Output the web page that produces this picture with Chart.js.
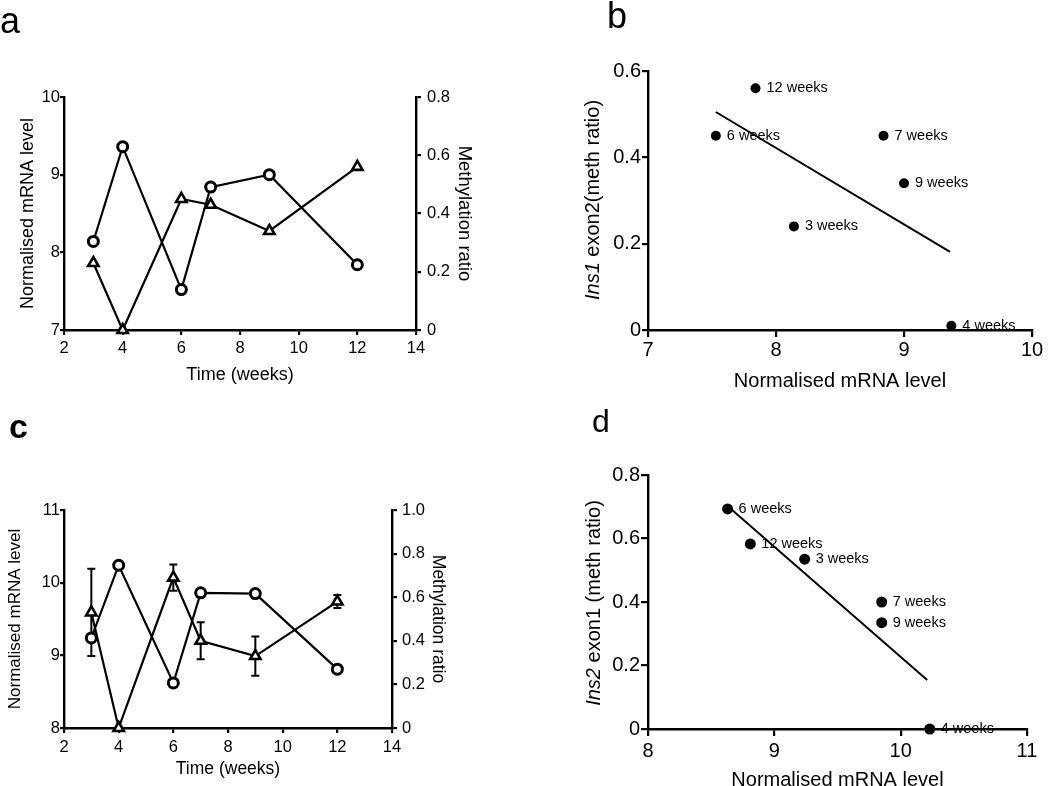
<!DOCTYPE html>
<html><head><meta charset="utf-8">
<script src="https://cdn.jsdelivr.net/npm/chart.js@4.4.1/dist/chart.umd.min.js"></script>
<style>
html,body{margin:0;padding:0;background:#fff;overflow:hidden;width:1050px;height:786px;}
canvas{position:absolute;}
</style></head><body>
<canvas id="ca" width="525" height="393" style="left:0;top:0"></canvas>
<canvas id="cb" width="525" height="393" style="left:525px;top:0"></canvas>
<canvas id="cc" width="525" height="393" style="left:0;top:393px"></canvas>
<canvas id="cd" width="525" height="393" style="left:525px;top:393px"></canvas>
<script>
// ---------- data ----------
const weeks = [3, 4, 6, 7, 9, 12];
const weekLabels = ['3 weeks', '4 weeks', '6 weeks', '7 weeks', '9 weeks', '12 weeks'];

// panel a (Ins1)
const aMrna = [8.14, 9.36, 7.52, 8.84, 9.00, 7.84];
const aMeth = [0.23, 0.00, 0.45, 0.43, 0.34, 0.56];

// panel b (Ins1 exon2 vs mRNA)
const bMrna = [8.14, 9.37, 7.53, 8.84, 9.00, 7.84];
const bMeth = [0.24, 0.01, 0.45, 0.45, 0.34, 0.56];
const bFitX = [7.53, 9.36];
const bFitY = [0.505, 0.181];

// panel c (Ins2)
const cMrna = [9.24, 10.24, 8.62, 9.86, 9.85, 8.81];
const cMeth = [0.53, 0.00, 0.69, 0.40, 0.33, 0.58];
const cMethErr = [0.20, 0.00, 0.06, 0.085, 0.09, 0.03];

// panel d (Ins2 exon1 vs mRNA)
const dMrna = [9.24, 10.23, 8.63, 9.85, 9.85, 8.81];
const dMeth = [0.535, 0.00, 0.693, 0.40, 0.335, 0.583];
const dFitX = [8.65, 10.21];
const dFitY = [0.695, 0.154];

// ---------- helpers ----------
const FAM = '"Liberation Sans", Arial, Helvetica, sans-serif';
Chart.defaults.font.family = FAM;
Chart.defaults.color = '#000';
Chart.defaults.animation = false;

const pts = (xs, ys) => xs.map((x, i) => ({x: x, y: ys[i]}));
const fmt1 = v => Math.abs(v) < 1e-9 ? '0' : (Math.round(v * 10) / 10).toFixed(1);
const fmt1short = v => Math.abs(v) < 1e-9 ? '0' : String(Math.round(v * 10) / 10);
const fmtInt = v => String(Math.round(v));

function axis(o) {
  return {
    type: 'linear',
    position: o.position,
    min: o.min, max: o.max,
    ticks: {stepSize: o.step, font: {size: o.tickSize}, padding: o.pad, color: '#000',
            callback: o.fmt, maxRotation: 0, autoSkip: false},
    grid: {display: true, drawOnChartArea: false, drawTicks: true, tickLength: o.tl, color: '#000', lineWidth: 2.2},
    border: {display: true, color: '#000', width: 2.4},
    title: o.title ? {display: true, text: o.title, font: {size: o.titleSize}, color: '#000', padding: o.titlePad} : {display: false},
    afterFit: s => { if (o.w !== undefined) s.width = o.w; if (o.h !== undefined) s.height = o.h; }
  };
}

const textPlugin = {
  id: 'texts',
  afterDraw(chart, args, opts) {
    const ctx = chart.ctx;
    (opts.items || []).forEach(it => {
      ctx.save();
      ctx.translate(it.x, it.y);
      ctx.rotate(it.rot || 0);
      ctx.fillStyle = '#000';
      ctx.textBaseline = it.baseline || 'middle';
      let total = 0;
      it.parts.forEach(p => {
        ctx.font = (p.italic ? 'italic ' : '') + (p.bold ? 'bold ' : '') + it.size + 'px ' + FAM;
        p.w = ctx.measureText(p.t).width; total += p.w;
      });
      let cx = it.align === 'left' ? 0 : -total / 2;
      ctx.textAlign = 'left';
      it.parts.forEach(p => {
        ctx.font = (p.italic ? 'italic ' : '') + (p.bold ? 'bold ' : '') + it.size + 'px ' + FAM;
        ctx.fillText(p.t, cx, 0); cx += p.w;
      });
      ctx.restore();
    });
  }
};

const pointLabelPlugin = {
  id: 'pointLabels',
  afterDatasetsDraw(chart, args, opts) {
    if (!opts.labels) return;
    const ctx = chart.ctx;
    const meta = chart.getDatasetMeta(0);
    ctx.save();
    ctx.fillStyle = '#000';
    ctx.font = opts.size + 'px ' + FAM;
    ctx.textBaseline = 'middle';
    ctx.textAlign = 'left';
    meta.data.forEach((el, i) => { ctx.fillText(opts.labels[i], el.x + opts.dx, el.y); });
    ctx.restore();
  }
};

const errorBarPlugin = {
  id: 'errorBars',
  beforeDatasetsDraw(chart, args, opts) {
    if (!opts.err) return;
    const ctx = chart.ctx;
    const xs = chart.scales.x, ys = chart.scales[opts.axis];
    ctx.save();
    ctx.strokeStyle = '#000'; ctx.lineWidth = 2;
    opts.xs.forEach((xv, i) => {
      const e = opts.err[i]; if (!e) return;
      const px = xs.getPixelForValue(xv);
      const t = ys.getPixelForValue(opts.ys[i] + e), b = ys.getPixelForValue(opts.ys[i] - e);
      ctx.beginPath();
      ctx.moveTo(px, t); ctx.lineTo(px, b);
      ctx.moveTo(px - 4, t); ctx.lineTo(px + 4, t);
      ctx.moveTo(px - 4, b); ctx.lineTo(px + 4, b);
      ctx.stroke();
    });
    ctx.restore();
  }
};

function lineSet(data, axisId, style, r, bw) {
  return {data: data, yAxisID: axisId, showLine: true, borderColor: '#000', borderWidth: 2.2,
          pointStyle: style, pointRadius: r, pointBorderWidth: bw, pointBackgroundColor: '#fff',
          pointBorderColor: '#000', clip: false};
}

// ---------- panel a ----------
new Chart(document.getElementById('ca'), {
  type: 'scatter',
  data: {datasets: [
    lineSet(pts(weeks, aMrna), 'y', 'circle', 5, 3),
    lineSet(pts(weeks, aMeth), 'y2', 'triangle', 6, 2.6)
  ]},
  options: {
    responsive: false,
    layout: {padding: {top: 97, left: 0, right: 0, bottom: 0}},
    plugins: {legend: {display: false}, tooltip: {enabled: false},
      texts: {items: [{x: 0, y: 33, size: 36, baseline: 'alphabetic', align: 'left', parts: [{t: 'a'}]}]}},
    scales: {
      x: axis({position: 'bottom', min: 2, max: 14, step: 2, tickSize: 16.5, pad: 4, tl: 5, h: 63, fmt: fmtInt,
               title: 'Time (weeks)', titleSize: 18, titlePad: {top: 0, bottom: 7}}),
      y: axis({position: 'left', min: 7, max: 10, step: 1, tickSize: 16.5, pad: 0, tl: 4, w: 64, fmt: fmtInt,
               title: 'Normalised mRNA level', titleSize: 18, titlePad: {top: 17, bottom: 0}}),
      y2: axis({position: 'right', min: 0, max: 0.8, step: 0.2, tickSize: 16.5, pad: 6, tl: 5, w: 109, fmt: fmt1short,
               title: 'Methylation ratio', titleSize: 18.5, titlePad: {top: 50, bottom: 0}})
    }
  },
  plugins: [textPlugin]
});

// ---------- panel b ----------
new Chart(document.getElementById('cb'), {
  type: 'scatter',
  data: {datasets: [
    {data: pts(bMrna, bMeth), pointRadius: 5, pointBackgroundColor: '#000', pointBorderColor: '#000', pointBorderWidth: 0, clip: false},
    {data: pts(bFitX, bFitY), showLine: true, pointRadius: 0, borderColor: '#000', borderWidth: 2}
  ]},
  options: {
    responsive: false,
    layout: {padding: {top: 71, left: 0, right: 18, bottom: 0}},
    plugins: {legend: {display: false}, tooltip: {enabled: false},
      pointLabels: {labels: weekLabels, size: 14.5, dx: 11},
      texts: {items: [
        {x: 82, y: 28, size: 36, baseline: 'alphabetic', align: 'left', parts: [{t: 'b'}]},
        {x: 68, y: 200, rot: -Math.PI / 2, size: 20, parts: [{t: 'Ins1', italic: true}, {t: ' exon2(meth ratio)'}]}
      ]}},
    scales: {
      x: axis({position: 'bottom', min: 7, max: 10, step: 1, tickSize: 20, pad: 1, tl: 7, h: 63, fmt: fmtInt,
               title: 'Normalised mRNA level', titleSize: 20, titlePad: {top: 0, bottom: 0}}),
      y: axis({position: 'left', min: 0, max: 0.6, step: 0.2, tickSize: 20, pad: 1, tl: 6, w: 123, fmt: fmt1short})
    }
  },
  plugins: [textPlugin, pointLabelPlugin]
});

// ---------- panel c ----------
new Chart(document.getElementById('cc'), {
  type: 'scatter',
  data: {datasets: [
    lineSet(pts(weeks, cMrna), 'y', 'circle', 5, 3),
    lineSet(pts(weeks, cMeth), 'y2', 'triangle', 6, 2.6)
  ]},
  options: {
    responsive: false,
    layout: {padding: {top: 117, left: 0, right: 0, bottom: 0}},
    plugins: {legend: {display: false}, tooltip: {enabled: false},
      errorBars: {xs: weeks, ys: cMeth, err: cMethErr, axis: 'y2'},
      texts: {items: [{x: 9, y: 45, size: 34, baseline: 'alphabetic', align: 'left', parts: [{t: 'c', bold: true}]}]}},
    scales: {
      x: axis({position: 'bottom', min: 2, max: 14, step: 2, tickSize: 16.5, pad: 5, tl: 5, h: 58, fmt: fmtInt,
               title: 'Time (weeks)', titleSize: 17.5, titlePad: {top: 0, bottom: 6}}),
      y: axis({position: 'left', min: 8, max: 11, step: 1, tickSize: 16.5, pad: 0, tl: 4, w: 64, fmt: fmtInt,
               title: 'Normalised mRNA level', titleSize: 17, titlePad: {top: 5, bottom: 0}}),
      y2: axis({position: 'right', min: 0, max: 1.0, step: 0.2, tickSize: 16.5, pad: 5, tl: 5, w: 133, fmt: fmt1,
               title: 'Methylation ratio', titleSize: 17.5, titlePad: {top: 77, bottom: 0}})
    }
  },
  plugins: [textPlugin, errorBarPlugin]
});

// ---------- panel d ----------
new Chart(document.getElementById('cd'), {
  type: 'scatter',
  data: {datasets: [
    {data: pts(dMrna, dMeth), pointRadius: 5.5, pointBackgroundColor: '#000', pointBorderColor: '#000', pointBorderWidth: 0, clip: false},
    {data: pts(dFitX, dFitY), showLine: true, pointRadius: 0, borderColor: '#000', borderWidth: 2}
  ]},
  options: {
    responsive: false,
    layout: {padding: {top: 82, left: 0, right: 23, bottom: 0}},
    plugins: {legend: {display: false}, tooltip: {enabled: false},
      pointLabels: {labels: weekLabels, size: 14.5, dx: 11},
      texts: {items: [
        {x: 67, y: 39, size: 32, baseline: 'alphabetic', align: 'left', parts: [{t: 'd'}]},
        {x: 69, y: 210, rot: -Math.PI / 2, size: 20, parts: [{t: 'Ins2', italic: true}, {t: ' exon1 (meth ratio)'}]}
      ]}},
    scales: {
      x: axis({position: 'bottom', min: 8, max: 11, step: 1, tickSize: 20, pad: 3, tl: 7, h: 57, fmt: fmtInt,
               title: 'Normalised mRNA level', titleSize: 20, titlePad: {top: 0, bottom: -6}}),
      y: axis({position: 'left', min: 0, max: 0.8, step: 0.2, tickSize: 20, pad: 1, tl: 7, w: 123, fmt: fmt1short})
    }
  },
  plugins: [textPlugin, pointLabelPlugin]
});
</script>
</body></html>
